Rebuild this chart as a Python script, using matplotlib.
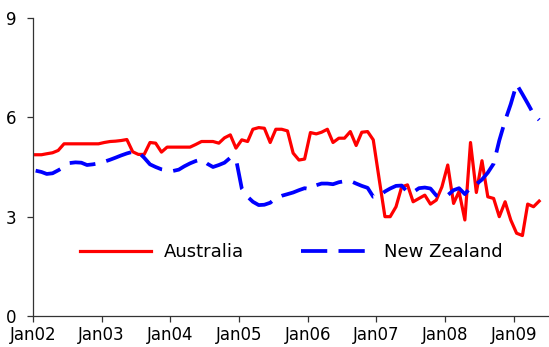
import matplotlib
matplotlib.use("Agg")
import matplotlib.pyplot as plt
import matplotlib.dates as mdates
import pandas as pd

# Monthly observations, Jan 2002 onward (plotted mid-month, Excel date-axis style)
start_month = "2002-01-01"
australia = [
    4.87, 4.87, 4.90, 4.93, 5.00, 5.20, 5.20, 5.20, 5.20, 5.20, 5.20, 5.20,
    5.24, 5.27, 5.28, 5.30, 5.33, 4.96, 4.88, 4.88, 5.24, 5.22, 4.95, 5.10,
    5.10, 5.10, 5.10, 5.10, 5.18, 5.27, 5.27, 5.27, 5.22, 5.38, 5.47, 5.07,
    5.32, 5.27, 5.64, 5.69, 5.67, 5.24, 5.64, 5.64, 5.59, 4.92, 4.71, 4.74,
    5.54, 5.50, 5.55, 5.64, 5.24, 5.37, 5.37, 5.57, 5.15, 5.55, 5.57, 5.32,
    4.15, 3.00, 3.00, 3.30, 3.90, 3.96, 3.45, 3.55, 3.65, 3.38, 3.50, 3.90,
    4.56, 3.40, 3.76, 2.90, 5.24, 3.73, 4.69, 3.60, 3.55, 3.00, 3.45, 2.90,
    2.50, 2.43, 3.38, 3.30, 3.47,
]
new_zealand = [
    4.39, 4.35, 4.29, 4.31, 4.40, 4.50, 4.62, 4.64, 4.63, 4.56, 4.58, 4.61,
    4.66, 4.72, 4.78, 4.85, 4.91, 4.96, 4.95, 4.78, 4.58, 4.50, 4.43, 4.40,
    4.38, 4.42, 4.52, 4.61, 4.68, 4.73, 4.60, 4.50, 4.56, 4.63, 4.78, 4.75,
    3.85, 3.60, 3.45, 3.35, 3.36, 3.42, 3.56, 3.63, 3.68, 3.73, 3.80, 3.86,
    3.83, 3.95, 4.00, 4.00, 3.98, 4.04, 4.07, 4.08, 4.00, 3.93, 3.87, 3.60,
    3.62, 3.76, 3.85, 3.93, 3.94, 3.74, 3.74, 3.86, 3.88, 3.85, 3.64, 3.60,
    3.65, 3.80, 3.86, 3.68, 3.88, 3.98, 4.12, 4.33, 4.60, 5.30, 5.90, 6.40,
    7.00, 6.70, 6.42, 6.10, 5.92,
]
series_labels = ["Australia", "New Zealand"]
y_ticks = [0, 3, 6, 9]
x_start, x_end = "2002-01-01", "2009-07-01"

months = pd.date_range(start_month, periods=len(australia), freq="MS") + pd.Timedelta(days=14)

plt.rcParams["font.family"] = ["DejaVu Sans"]

fig = plt.figure(figsize=(5.49, 3.47), dpi=100)
ax = fig.add_axes([33 / 549, 31 / 347, 515 / 549, 298 / 347])

ax.plot(months, australia, color="#FF0000", lw=2.3, label=series_labels[0])
ax.plot(months, new_zealand, color="#0000FF", lw=2.7, dashes=(7, 3),
        label=series_labels[1])

ax.set_xlim(pd.Timestamp(x_start), pd.Timestamp(x_end))
ax.set_ylim(0, 9)
ax.set_yticks(y_ticks)
ax.xaxis.set_major_locator(mdates.YearLocator())
ax.xaxis.set_major_formatter(mdates.DateFormatter("%b%y"))

for s in ["top", "right"]:
    ax.spines[s].set_visible(False)
for s in ["left", "bottom"]:
    ax.spines[s].set_color("#333333")
    ax.spines[s].set_linewidth(0.9)

ax.tick_params(axis="both", direction="out", length=4, width=0.9,
               color="#333333", labelsize=12, labelcolor="black")
ax.tick_params(axis="y", pad=8)
ax.tick_params(axis="x", pad=3)

ax.legend(loc="center left", bbox_to_anchor=(0.078, 0.215), ncol=2,
          frameon=False, handlelength=3.9, handletextpad=0.72,
          columnspacing=3.15, fontsize=13, borderaxespad=0)

fig.savefig("out.png", dpi=100)
